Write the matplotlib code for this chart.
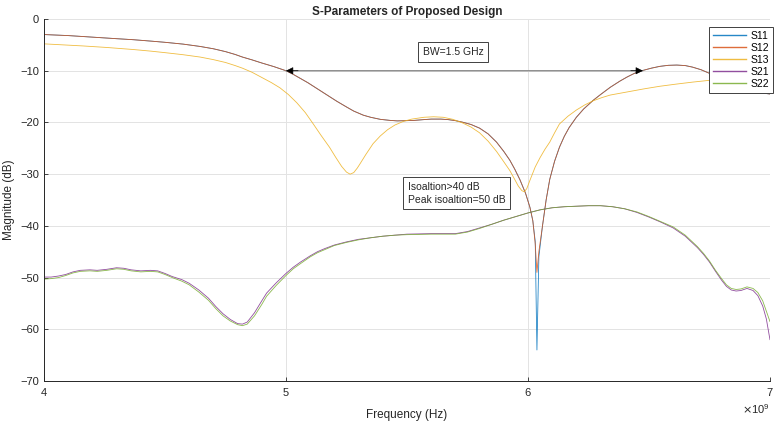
import numpy as np
import matplotlib.pyplot as plt
from matplotlib.ticker import ScalarFormatter

plt.rcParams['font.family'] = ['Liberation Sans', 'DejaVu Sans']

# upper curves (reflection), frequency in GHz
f_up = [4.00, 4.10, 4.20, 4.30, 4.37, 4.45, 4.50, 4.575, 4.645, 4.70, 4.75, 4.79, 4.82, 4.86,
        4.90, 4.95, 5.00, 5.03, 5.06, 5.09, 5.12, 5.15, 5.18, 5.21, 5.25, 5.28, 5.32, 5.35,
        5.39, 5.43, 5.46, 5.50, 5.53, 5.57, 5.60, 5.64, 5.67, 5.70, 5.73, 5.765, 5.80, 5.835,
        5.87, 5.90, 5.925, 5.945, 5.967, 5.99, 6.008, 6.02, 6.03, 6.037, 6.045, 6.06, 6.075,
        6.09, 6.11, 6.13, 6.15, 6.17, 6.20, 6.23, 6.27, 6.30, 6.34, 6.38, 6.41, 6.44, 6.47,
        6.51, 6.545, 6.58, 6.615, 6.65, 6.68, 6.715, 6.75, 6.80, 6.85, 6.90, 6.95, 7.00]
s11 = [-3.0, -3.2, -3.5, -3.8, -4.0, -4.3, -4.5, -4.85, -5.3, -5.75, -6.3, -6.85, -7.35, -7.9,
       -8.5, -9.2, -10.0, -10.7, -11.5, -12.3, -13.2, -14.1, -15.0, -15.9, -17.0, -17.8, -18.6, -19.0,
       -19.4, -19.6, -19.7, -19.65, -19.6, -19.45, -19.35, -19.35, -19.45, -19.65, -19.95, -20.4, -21.1, -22.2,
       -23.8, -25.6, -27.3, -29.0, -31.1, -33.7, -36.4, -39.0, -43.0, -64.0, -46.0, -40.0, -35.0,
       -31.0, -27.5, -24.8, -22.7, -21.0, -19.0, -17.4, -15.7, -14.6, -13.2, -12.0, -11.2, -10.5, -10.0,
       -9.5, -9.15, -8.95, -8.9, -9.0, -9.3, -9.8, -10.5, -11.6, -12.7, -13.6, -14.2, -14.5]
s12 = [-3.0, -3.2, -3.5, -3.8, -4.0, -4.3, -4.5, -4.85, -5.3, -5.75, -6.3, -6.85, -7.35, -7.9,
       -8.5, -9.2, -10.0, -10.7, -11.5, -12.3, -13.2, -14.1, -15.0, -15.9, -17.0, -17.8, -18.6, -19.0,
       -19.4, -19.6, -19.7, -19.65, -19.6, -19.45, -19.35, -19.35, -19.45, -19.65, -19.95, -20.4, -21.1, -22.2,
       -23.8, -25.6, -27.3, -29.0, -31.1, -33.7, -36.4, -39.0, -43.5, -49.0, -45.0, -40.0, -35.0,
       -31.0, -27.5, -24.8, -22.7, -21.0, -19.0, -17.4, -15.7, -14.6, -13.2, -12.0, -11.2, -10.5, -10.0,
       -9.5, -9.15, -8.95, -8.9, -9.0, -9.3, -9.8, -10.5, -11.6, -12.7, -13.6, -14.2, -14.5]

f13 = [4.00, 4.08, 4.16, 4.26, 4.37, 4.44, 4.50, 4.575, 4.645, 4.70, 4.75, 4.79, 4.82, 4.86,
       4.90, 4.94, 4.975, 5.01, 5.045, 5.08, 5.11, 5.145, 5.18, 5.205, 5.23, 5.25, 5.265, 5.28,
       5.295, 5.306, 5.33, 5.36, 5.39, 5.42, 5.45, 5.485, 5.52, 5.57, 5.61, 5.65, 5.69, 5.73,
       5.765, 5.80, 5.835, 5.87, 5.90, 5.925, 5.945, 5.96, 5.975, 5.985, 5.995, 6.008, 6.03,
       6.05, 6.07, 6.09, 6.11, 6.13, 6.165, 6.20, 6.235, 6.27, 6.305, 6.34, 6.41, 6.48, 6.545,
       6.61, 6.68, 6.75, 6.85, 6.93, 7.00]
s13 = [-4.8, -5.0, -5.2, -5.5, -5.9, -6.2, -6.5, -6.9, -7.35, -7.85, -8.4, -9.0, -9.5, -10.3,
       -11.3, -12.3, -13.3, -14.6, -16.2, -18.1, -20.1, -22.5, -24.8, -26.7, -28.5, -29.6, -30.0, -29.7,
       -28.8, -28.0, -26.2, -24.1, -22.6, -21.4, -20.5, -19.8, -19.35, -19.0, -18.9, -19.0, -19.4, -20.1,
       -20.9, -22.0, -23.6, -25.6, -27.6, -29.3, -31.0, -32.3, -33.2, -33.4, -32.8, -31.2, -28.6,
       -26.8, -25.2, -23.8, -22.0, -20.3, -18.8, -17.6, -16.6, -15.8, -15.2, -14.7, -14.1, -13.5, -13.0,
       -12.6, -12.2, -11.85, -11.6, -11.5, -11.5]

# lower curves (isolation)
f_low = [4.00, 4.03, 4.06, 4.09, 4.12, 4.15, 4.19, 4.22, 4.26, 4.30, 4.33, 4.36, 4.40, 4.44,
         4.47, 4.50, 4.53, 4.57, 4.60, 4.64, 4.68, 4.71, 4.74, 4.77, 4.80, 4.82, 4.84, 4.87,
         4.90, 4.92, 4.96, 5.00, 5.03, 5.06, 5.10, 5.13, 5.16, 5.20, 5.25, 5.30, 5.35, 5.40,
         5.45, 5.50, 5.60, 5.70, 5.75, 5.80, 5.85, 5.90, 5.95, 6.00, 6.05, 6.10, 6.15, 6.20,
         6.25, 6.30, 6.35, 6.40, 6.45, 6.50, 6.55, 6.60, 6.65, 6.70, 6.725, 6.75, 6.775, 6.80,
         6.82, 6.84, 6.86, 6.88, 6.905, 6.93, 6.95, 6.97, 6.985, 7.00]
s21 = [-49.9, -49.9, -49.7, -49.4, -48.9, -48.6, -48.5, -48.6, -48.4, -48.1, -48.2, -48.5, -48.7, -48.6,
       -48.7, -49.2, -49.8, -50.4, -51.1, -52.4, -54.0, -55.6, -57.0, -58.1, -58.9, -59.0, -58.6, -56.8,
       -54.5, -53.0, -51.0, -49.2, -48.0, -47.0, -45.8, -45.0, -44.4, -43.7, -43.1, -42.6, -42.3, -42.0,
       -41.8, -41.6, -41.5, -41.5, -41.1, -40.4, -39.7, -38.9, -38.2, -37.5, -36.9, -36.5, -36.3, -36.2,
       -36.1, -36.1, -36.3, -36.7, -37.4, -38.3, -39.3, -40.4, -42.0, -44.2, -45.5, -47.0, -48.8, -50.5,
       -51.7, -52.4, -52.6, -52.5, -52.1, -52.5, -53.5, -55.5, -58.0, -62.0]
s22 = [-50.3, -50.2, -50.0, -49.6, -49.1, -48.8, -48.7, -48.8, -48.6, -48.3, -48.4, -48.7, -48.9, -48.8,
       -48.9, -49.4, -50.0, -50.7, -51.4, -52.8, -54.4, -56.0, -57.4, -58.4, -59.1, -59.3, -59.0, -57.4,
       -55.2, -53.6, -51.5, -49.6, -48.3, -47.3, -46.0, -45.2, -44.6, -43.8, -43.2, -42.7, -42.3, -42.0,
       -41.8, -41.7, -41.6, -41.6, -41.2, -40.5, -39.7, -38.9, -38.2, -37.5, -36.9, -36.5, -36.3, -36.2,
       -36.1, -36.1, -36.3, -36.7, -37.3, -38.2, -39.2, -40.2, -41.8, -44.0, -45.3, -46.8, -48.6, -50.2,
       -51.4, -52.1, -52.3, -52.2, -51.8, -52.1, -52.9, -54.5, -56.5, -58.5]

names = ['S11', 'S12', 'S13', 'S21', 'S22']
colors = ['#0072BD', '#D95319', '#EDB120', '#7E2F8E', '#77AC30']
series = [(f_up, s11), (f_up, s12), (f13, s13), (f_low, s21), (f_low, s22)]

fig = plt.figure(figsize=(7.74, 4.23), dpi=100)
ax = fig.add_axes([0.0568, 0.0993, 0.938, 0.8557])

for name, c, (f, s) in zip(names, colors, series):
    ax.plot(np.asarray(f) * 1e9, s, color=c, lw=0.6, alpha=0.85, label=name)

ax.set_xlim(4e9, 7e9)
ax.set_ylim(-70, 0)
ax.set_xticks([4e9, 5e9, 6e9, 7e9])
ax.set_yticks(np.arange(-70, 1, 10))
fmt = ScalarFormatter(useMathText=True)
ax.xaxis.set_major_formatter(fmt)
ax.grid(True, color='#e3e3e3', lw=0.7)
ax.set_axisbelow(True)
for sp in ['top', 'right']:
    ax.spines[sp].set_visible(False)
for sp in ['left', 'bottom']:
    ax.spines[sp].set_color('#262626')
    ax.spines[sp].set_linewidth(0.7)
ax.tick_params(direction='in', length=3, width=0.6, colors='#262626', labelsize=8)
ax.xaxis.get_offset_text().set_fontsize(8)
ax.xaxis.get_offset_text().set_color('#262626')

ax.set_xlabel('Frequency (Hz)', fontsize=8.5, color='#262626', labelpad=8)
ax.set_ylabel('Magnitude (dB)', fontsize=8.5, color='#262626', labelpad=4)
ax.set_title('S-Parameters of Proposed Design', fontsize=8.5, fontweight='bold', color='#262626', pad=3)

# bandwidth arrow
ax.annotate('', xy=(6.475e9, -10), xytext=(5.0e9, -10),
            arrowprops=dict(arrowstyle='-', color='#8c8c8c', lw=1.0, shrinkA=0, shrinkB=0))
ax.annotate('', xy=(5.0e9, -10), xytext=(5.05e9, -10),
            arrowprops=dict(arrowstyle='-|>', color='black', lw=0.5, mutation_scale=11, shrinkA=0, shrinkB=0))
ax.annotate('', xy=(6.475e9, -10), xytext=(6.425e9, -10),
            arrowprops=dict(arrowstyle='-|>', color='black', lw=0.5, mutation_scale=11, shrinkA=0, shrinkB=0))

box = dict(boxstyle='square,pad=0.45', fc='white', ec='#404040', lw=0.7)
ax.text(5.69e9, -6.4, 'BW=1.5 GHz', fontsize=7.5, ha='center', va='center', color='#262626', bbox=box)
ax.text(5.505e9, -33.7, 'Isoaltion>40 dB\nPeak isoaltion=50 dB', fontsize=7.5, ha='left', va='center',
        color='#262626', bbox=box, linespacing=1.35)

leg = ax.legend(loc='upper right', bbox_to_anchor=(1.004, 0.978), borderaxespad=0, fontsize=7.5,
                fancybox=False, handlelength=3.2, handletextpad=0.4, borderpad=0.35, labelspacing=0.2,
                framealpha=1)
leg.get_frame().set_edgecolor('#404040')
leg.get_frame().set_linewidth(0.7)
for line in leg.get_lines():
    line.set_linewidth(1.0)

fig.savefig('out.png', dpi=100)
